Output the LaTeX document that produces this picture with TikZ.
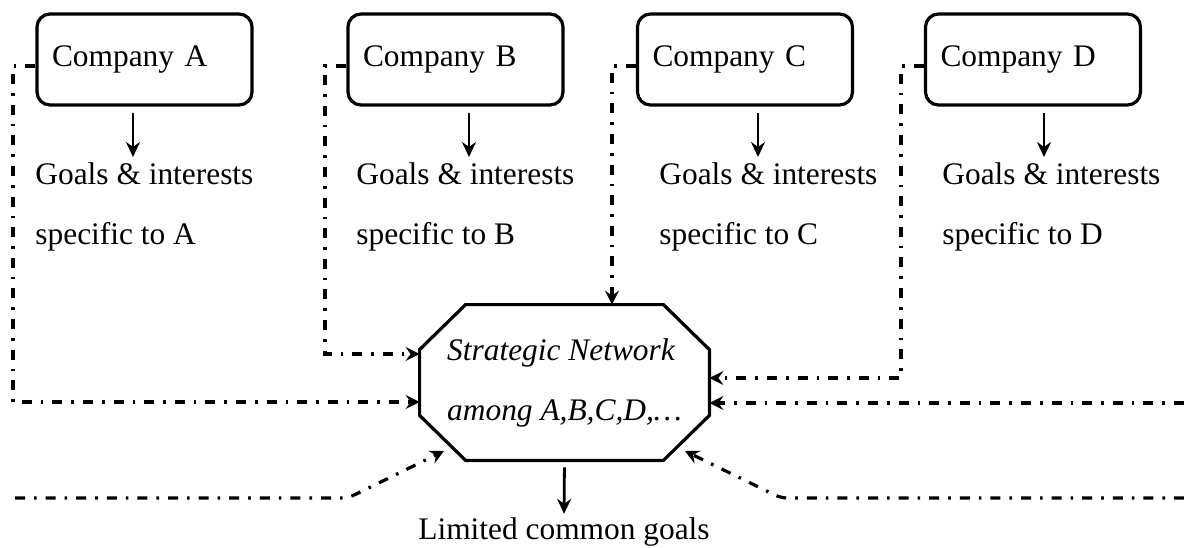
\documentclass[tikz,border=0pt]{standalone}
\usepackage{fontspec}
\setmainfont{Liberation Serif}
\usetikzlibrary{arrows.meta,calc}
\begin{document}
\begin{tikzpicture}[x=0.5pt,y=-0.5pt,
  font=\fontsize{15.7}{18}\selectfont,
  company/.style={draw,line width=1.6pt,rounded corners=6.5pt,
    minimum width=107.5pt,minimum height=45.5pt,text width=92.5pt,
    align=left,inner xsep=7.5pt,inner ysep=0pt},
  goals/.style={font=\fontsize{15.7}{30}\selectfont,align=left,
    anchor=north west,inner sep=0pt},
  arr/.style={line width=1.4pt,-{Stealth[length=7.5pt,width=7pt,inset=2.5pt]}},
  link/.style={line width=1.6pt,dash pattern=on 5pt off 4.5pt on 1.3pt off 4.5pt,
    -{Stealth[length=7pt,width=7pt,inset=2.5pt]}},
  ]
\useasboundingbox (0,0) rectangle (1184,547);

% companies
\node[company] (A) at (144.5,59.5) {Company A};
\node[company] (B) at (455.5,59.5) {Company B};
\node[company] (C) at (745,59.5) {Company C};
\node[company] (D) at (1033,59.5) {Company D};

% individual goals
\node[goals] (gA) at (35,162) {Goals \& interests\\specific to A};
\node[goals] (gB) at (356,162) {Goals \& interests\\specific to B};
\node[goals] (gC) at (659,162) {Goals \& interests\\specific to C};
\node[goals] (gD) at (942,162) {Goals \& interests\\specific to D};

\coordinate (xA) at (133,0);
\coordinate (xB) at (469,0);
\coordinate (xC) at (758,0);
\coordinate (xD) at (1044,0);
\foreach \n in {A,B,C,D}
  \draw[arr,shorten <=3pt,shorten >=2.5pt] (\n.south -| x\n) -- (g\n.north -| x\n);

% network
\node[minimum width=144.5pt,minimum height=77.5pt,inner sep=0pt,
  font=\fontsize{15.7}{30}\selectfont\itshape,align=left] (N) at (564.5,382.5)
  {Strategic Network\\among A,B,C,D,\ldots};
\draw[line width=1.6pt,line join=miter]
  ($(N.north west)+(46,0)$) -- ($(N.north east)+(-46,0)$)
  -- ($(N.north east)+(0,45)$) -- ($(N.south east)+(0,-45)$)
  -- ($(N.south east)+(-46,0)$) -- ($(N.south west)+(46,0)$)
  -- ($(N.south west)+(0,-45)$) -- ($(N.north west)+(0,45)$) -- cycle;

\node[anchor=base,inner sep=0pt] (L) at (564,539) {Limited common goals};
\draw[arr,shorten <=3.5pt,shorten >=1.5pt] (N.south) -- (L.north);

% links into the network
\coordinate (a2) at (13,402);
\coordinate (b2) at (325,354);
\coordinate (c2) at (612,0);
\coordinate (d2) at (901,378);
\coordinate (r1) at (1184,403);
\coordinate (l1) at (15,498);
\coordinate (l2) at (348,498);
\coordinate (l3) at (444,451);
\coordinate (m1) at (1184,498);
\coordinate (m2) at (781,498);
\coordinate (m3) at (685,451);

\draw[link] ($(A.west)+(0,6.5)$) -| (a2) -- (N.west |- a2);
\draw[link] ($(B.west)+(0,6.5)$) -| (b2) -- (N.west |- b2);
\draw[link] ($(C.west)+(0,6.5)$) -| (N.north -| c2);
\draw[link] ($(D.west)+(0,6.5)$) -| (d2) -- (N.east |- d2);
\draw[link] (r1) -- (N.east |- r1);
\draw[link,rounded corners=3pt] (l1) -- (l2) -- (l3);
\draw[link,rounded corners=3pt] (m1) -- (m2) -- (m3);
\end{tikzpicture}
\end{document}
